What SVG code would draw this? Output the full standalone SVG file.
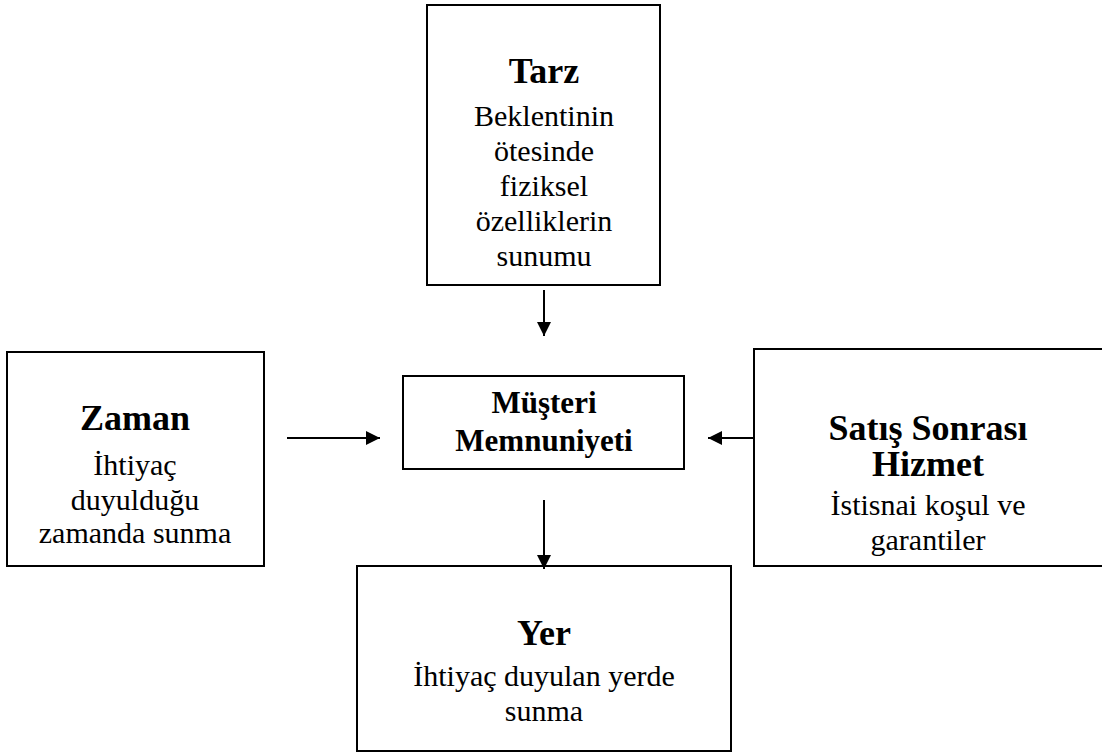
<svg xmlns="http://www.w3.org/2000/svg" width="1102" height="754" viewBox="0 0 1102 754">
<defs>
<style>
.box{fill:#fff;stroke:#000;stroke-width:2}
.t{font-family:"Liberation Serif","Times New Roman",serif;font-weight:bold;font-size:36px;text-anchor:middle;fill:#000}
.c{font-family:"Liberation Serif","Times New Roman",serif;font-weight:bold;font-size:31px;text-anchor:middle;fill:#000}
.b{font-family:"Liberation Serif","Times New Roman",serif;font-size:30px;text-anchor:middle;fill:#000}
.ln{stroke:#000;stroke-width:2;fill:none}
</style>
<marker id="ah" viewBox="0 0 14 14" refX="14" refY="7" markerWidth="14" markerHeight="14" markerUnits="userSpaceOnUse" orient="auto">
<path d="M0,0 L14,7 L0,14 Z" fill="#000"/>
</marker>
</defs>
<rect width="1102" height="754" fill="#fff"/>
<g id="tarz">
<rect class="box" x="427" y="5" width="233" height="280"/>
<text class="t" x="544" y="83">Tarz</text>
<text class="b" x="544" y="126">Beklentinin</text>
<text class="b" x="544" y="161">ötesinde</text>
<text class="b" x="544" y="196">fiziksel</text>
<text class="b" x="544" y="231">özelliklerin</text>
<text class="b" x="544" y="266">sunumu</text>
</g>
<g id="musteri">
<rect class="box" x="403" y="376" width="281" height="93"/>
<text class="c" x="544" y="413">Müşteri</text>
<text class="c" x="544" y="451">Memnuniyeti</text>
</g>
<g id="zaman">
<rect class="box" x="7" y="352" width="257" height="214"/>
<text class="t" x="135" y="430">Zaman</text>
<text class="b" x="135" y="475">İhtiyaç</text>
<text class="b" x="135" y="510">duyulduğu</text>
<text class="b" x="135" y="543">zamanda sunma</text>
</g>
<g id="satis">
<rect class="box" x="754" y="349" width="352" height="217"/>
<text class="t" x="928" y="440">Satış Sonrası</text>
<text class="t" x="928" y="476">Hizmet</text>
<text class="b" x="928" y="515">İstisnai koşul ve</text>
<text class="b" x="928" y="550">garantiler</text>
</g>
<g id="yer">
<rect class="box" x="357" y="566" width="374" height="185"/>
<text class="t" x="544" y="645">Yer</text>
<text class="b" x="544" y="686">İhtiyaç duyulan yerde</text>
<text class="b" x="544" y="721">sunma</text>
</g>
<g id="connectors">
<line class="ln" x1="544" y1="290" x2="544" y2="336" marker-end="url(#ah)"/>
<line class="ln" x1="287" y1="438" x2="380" y2="438" marker-end="url(#ah)"/>
<line class="ln" x1="754" y1="438" x2="708" y2="438" marker-end="url(#ah)"/>
<line class="ln" x1="544" y1="500" x2="544" y2="569" marker-end="url(#ah)"/>
</g>
</svg>
